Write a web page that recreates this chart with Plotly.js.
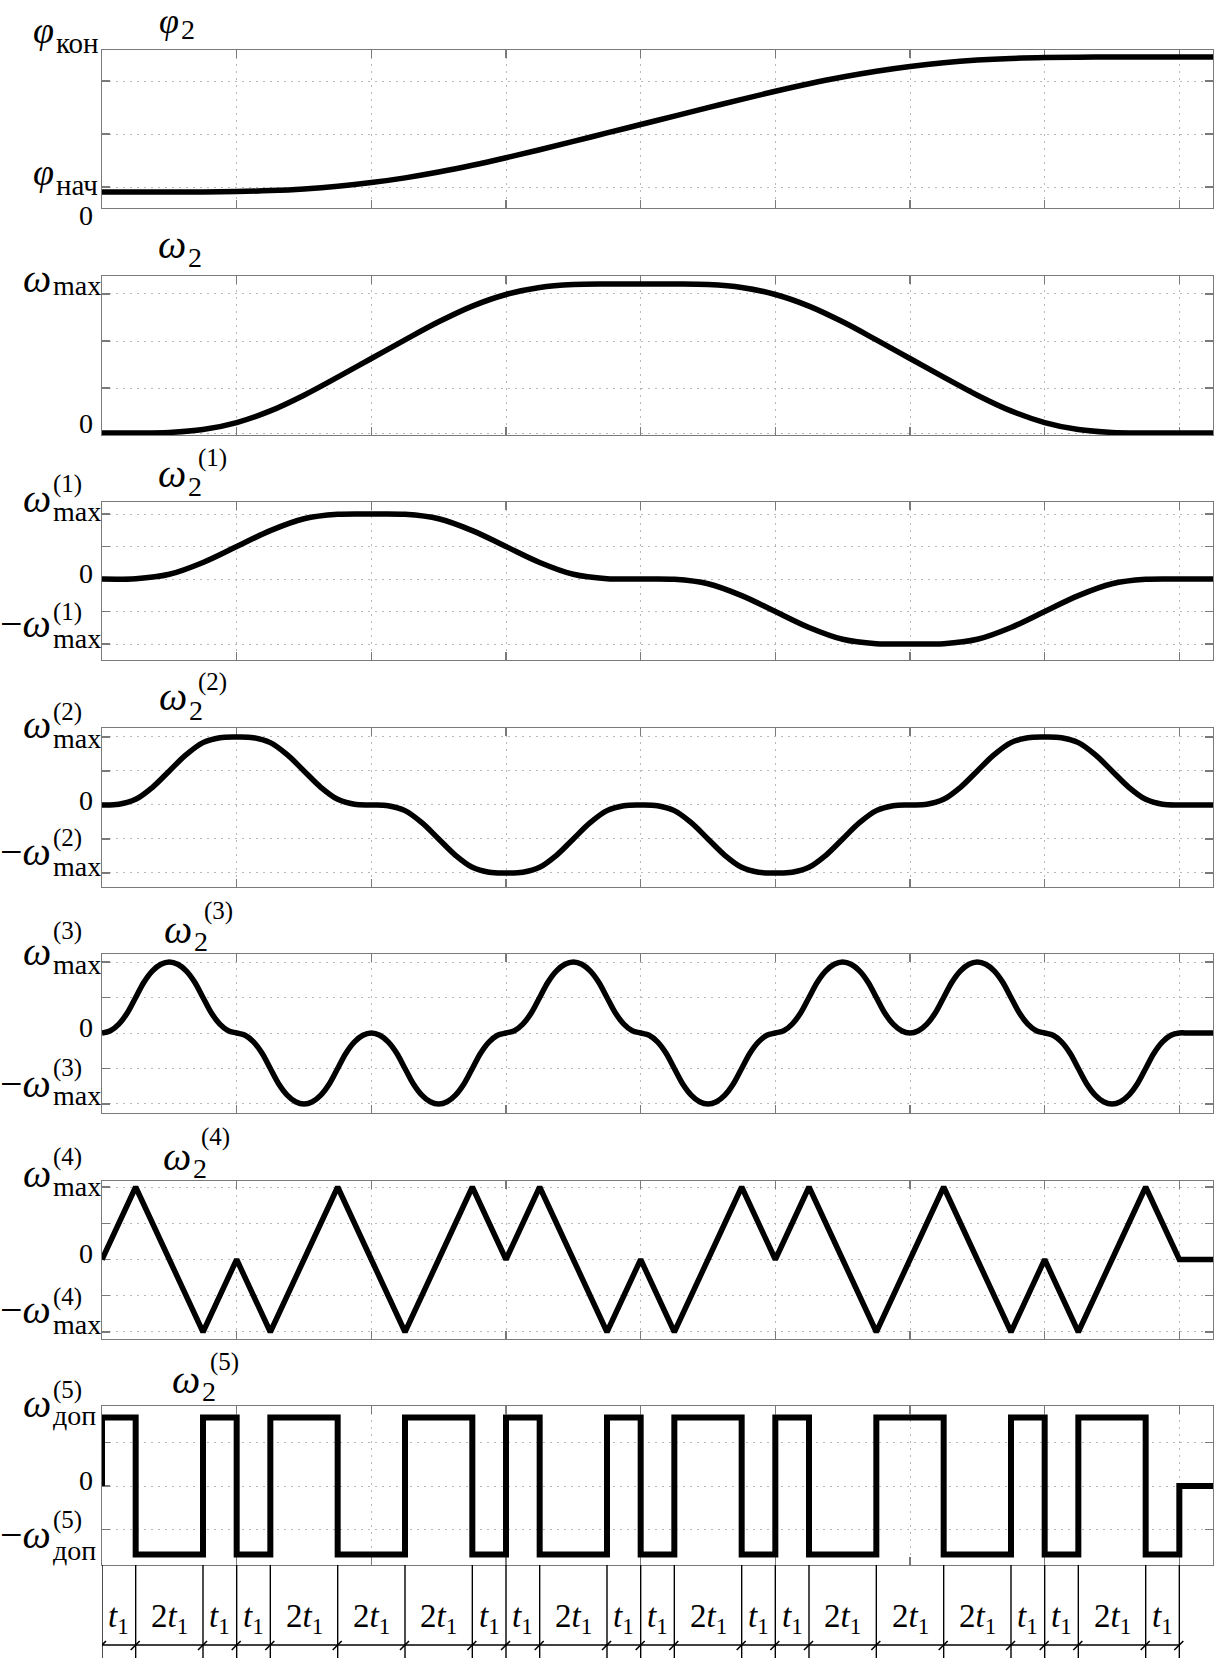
<!DOCTYPE html>
<html><head><meta charset="utf-8">
<script src="https://cdn.plot.ly/plotly-3.0.1.min.js"></script>
<style>html,body{margin:0;padding:0;background:#fff}</style>
</head><body><div id="chart" style="width:1215px;height:1658px"></div>
<script>
// ---------- data (time in units of t1) ----------
const t = [0,1,2,3,4,5,6,7,8,9,10,11,12,13,14,15,16,17,18,19,20,21,22,23,24,25,26,27,28,29,30,31,32,33];
const tHalf = [0,0.5,1,1.5,2,2.5,3,3.5,4,4.5,5,5.5,6,6.5,7,7.5,8,8.5,9,9.5,10,10.5,11,11.5,12,12.5,13,13.5,14,14.5,15,15.5,16,16.5,17,17.5,18,18.5,19,19.5,20,20.5,21,21.5,22,22.5,23,23.5,24,24.5,25,25.5,26,26.5,27,27.5,28,28.5,29,29.5,30,30.5,31,31.5,32,32.5,33];
const tQuarter = [0,0.25,0.5,0.75,1,1.25,1.5,1.75,2,2.25,2.5,2.75,3,3.25,3.5,3.75,4,4.25,4.5,4.75,5,5.25,5.5,5.75,6,6.25,6.5,6.75,7,7.25,7.5,7.75,8,8.25,8.5,8.75,9,9.25,9.5,9.75,10,10.25,10.5,10.75,11,11.25,11.5,11.75,12,12.25,12.5,12.75,13,13.25,13.5,13.75,14,14.25,14.5,14.75,15,15.25,15.5,15.75,16,16.25,16.5,16.75,17,17.25,17.5,17.75,18,18.25,18.5,18.75,19,19.25,19.5,19.75,20,20.25,20.5,20.75,21,21.25,21.5,21.75,22,22.25,22.5,22.75,23,23.25,23.5,23.75,24,24.25,24.5,24.75,25,25.25,25.5,25.75,26,26.25,26.5,26.75,27,27.25,27.5,27.75,28,28.25,28.5,28.75,29,29.25,29.5,29.75,30,30.25,30.5,30.75,31,31.25,31.5,31.75,32,32.25,32.5,32.75,33];

// phi2 (fraction of the way from phi_nach to phi_kon)
const phi2 = [0,0.000001,0.000084,0.000815,0.00358,0.01025,0.0227,0.04232,0.06966,0.10482,0.1477,0.19775,0.25358,0.31331,0.37508,0.4375,0.5,0.5625,0.62492,0.68669,0.74642,0.80225,0.8523,0.89518,0.93034,0.95768,0.9773,0.98975,0.99642,0.999185,0.999916,0.999999,1,1];
// omega2 / omega_max
const omega2 = [0,0.0001,0.0039,0.0233,0.0703,0.1483,0.2539,0.3751,0.5,0.6249,0.7461,0.8517,0.9297,0.9767,0.9961,0.9999,1,0.9999,0.9961,0.9767,0.9297,0.8517,0.7461,0.6249,0.5,0.3751,0.2539,0.1483,0.0703,0.0233,0.0039,0.0001,0,0];
// omega2^(1) / omega_max^(1)
const omega2d1 = [0,0.0052,0.0729,0.2552,0.5,0.7448,0.9271,0.9948,1,0.9948,0.9271,0.7448,0.5,0.2552,0.0729,0.0052,0,-0.0052,-0.0729,-0.2552,-0.5,-0.7448,-0.9271,-0.9948,-1,-0.9948,-0.9271,-0.7448,-0.5,-0.2552,-0.0729,-0.0052,0,0];
// omega2^(2) / omega_max^(2)  (half-t1 steps)
const omega2d2 = [0,0.0104,0.0833,0.2604,0.5,0.7396,0.9167,0.9896,1,0.9896,0.9167,0.7396,0.5,0.2604,0.0833,0.0104,0,
 -0.0104,-0.0833,-0.2604,-0.5,-0.7396,-0.9167,-0.9896,-1,-0.9896,-0.9167,-0.7396,-0.5,-0.2604,-0.0833,-0.0104,0,
 -0.0104,-0.0833,-0.2604,-0.5,-0.7396,-0.9167,-0.9896,-1,-0.9896,-0.9167,-0.7396,-0.5,-0.2604,-0.0833,-0.0104,0,
 0.0104,0.0833,0.2604,0.5,0.7396,0.9167,0.9896,1,0.9896,0.9167,0.7396,0.5,0.2604,0.0833,0.0104,0,0,0];
// omega2^(3) / omega_max^(3)  (quarter-t1 steps)
const omega2d3 = [
 0,0.03125,0.125,0.28125, 0.5,0.71875,0.875,0.96875, 1,0.96875,0.875,0.71875, 0.5,0.28125,0.125,0.03125,
 0,-0.03125,-0.125,-0.28125, -0.5,-0.71875,-0.875,-0.96875, -1,-0.96875,-0.875,-0.71875, -0.5,-0.28125,-0.125,-0.03125,
 0,-0.03125,-0.125,-0.28125, -0.5,-0.71875,-0.875,-0.96875, -1,-0.96875,-0.875,-0.71875, -0.5,-0.28125,-0.125,-0.03125,
 0,0.03125,0.125,0.28125, 0.5,0.71875,0.875,0.96875, 1,0.96875,0.875,0.71875, 0.5,0.28125,0.125,0.03125,
 0,-0.03125,-0.125,-0.28125, -0.5,-0.71875,-0.875,-0.96875, -1,-0.96875,-0.875,-0.71875, -0.5,-0.28125,-0.125,-0.03125,
 0,0.03125,0.125,0.28125, 0.5,0.71875,0.875,0.96875, 1,0.96875,0.875,0.71875, 0.5,0.28125,0.125,0.03125,
 0,0.03125,0.125,0.28125, 0.5,0.71875,0.875,0.96875, 1,0.96875,0.875,0.71875, 0.5,0.28125,0.125,0.03125,
 0,-0.03125,-0.125,-0.28125, -0.5,-0.71875,-0.875,-0.96875, -1,-0.96875,-0.875,-0.71875, -0.5,-0.28125,-0.125,-0.03125,
 0,0,0,0, 0];
// omega2^(4) / omega_max^(4)
const omega2d4 = [0,1,0,-1,0,-1,0,1,0,-1,0,1,0,1,0,-1,0,-1,0,1,0,1,0,-1,0,1,0,-1,0,-1,0,1,0,0];
// omega2^(5): segment durations (in t1) and levels (+/- omega_dop^(5))
const segDur  = [1,2,1,1,2,2,2,1,1,2,1,1,2,1,1,2,2,2,1,1,2,1];
const segSign = [1,-1,1,-1,1,-1,1,-1,1,-1,1,-1,1,-1,1,-1,1,-1,1,-1,1,-1];
const tEnd = 33;

// ---------- build step series from segments ----------
const stepX = [0], stepY = [0], bounds = [0];
let acc = 0;
segDur.forEach((d, i) => { stepX.push(acc); stepY.push(segSign[i]); acc += d; bounds.push(acc); });
stepX.push(acc); stepY.push(0); stepX.push(tEnd); stepY.push(0);

// ---------- layout helpers ----------
const W = 1215, H = 1658, XL = 102, XR = 1213;
const FONT = 'Liberation Serif, Times New Roman, serif';
const px = v => v / W, py = v => 1 - v / H;

const panels = [
  {top:50,   bot:208,  range:[-0.1185,1.052], ticks:[0.037,0.4296,0.8222], x:t,     y:phi2,     shape:'spline', w:5.5},
  {top:276,  bot:435,  range:[-0.0134,1.0537], ticks:[0,0.302,0.617,0.933], x:t,    y:omega2,   shape:'spline', w:5.5},
  {top:502,  bot:660,  range:[-1.246,1.185], ticks:[-1,-0.5,0,0.5,1], x:t,          y:omega2d1, shape:'spline', w:5.5},
  {top:728,  bot:887,  range:[-1.206,1.132], ticks:[-1,-0.5,0,0.5,1], x:tHalf,      y:omega2d2, shape:'spline', w:5.5},
  {top:954,  bot:1113, range:[-1.127,1.113], ticks:[-1,-0.5,0,0.5,1], x:tQuarter,   y:omega2d3, shape:'spline', w:5.5},
  {top:1181, bot:1339, range:[-1.097,1.083], ticks:[-1,-0.5,0,0.5,1], x:t,          y:omega2d4, shape:'linear', w:5.5},
  {top:1406, bot:1565, range:[-1.153,1.168], ticks:[-0.635,0,0.635], x:stepX,       y:stepY,    shape:'hv',     w:6}
];

const traces = [], layout = {
  width: W, height: H, margin:{l:0,r:0,t:0,b:0}, showlegend:false,
  paper_bgcolor:'#fff', plot_bgcolor:'#fff', annotations:[], shapes:[],
  font:{family:FONT}
};
const AX = {showline:true, linecolor:'#7a7a7a', linewidth:1.3, mirror:'allticks', ticks:'inside', ticklen:8,
  tickcolor:'#7a7a7a', tickwidth:1.3, showgrid:true, gridcolor:'#b8b8b8', gridwidth:1, griddash:'2px,5px',
  showticklabels:false, zeroline:false, layer:'below traces', fixedrange:true};

panels.forEach((p, i) => {
  const k = i === 0 ? '' : String(i + 1);
  traces.push({x:p.x, y:p.y, xaxis:'x'+k, yaxis:'y'+k, type:'scatter', mode:'lines',
    line:{color:'#000', width:p.w, shape:p.shape, smoothing:1}, hoverinfo:'skip'});
  layout['xaxis'+k] = Object.assign({}, AX, {domain:[px(XL), px(XR)], anchor:'y'+k, range:[0,tEnd],
    tickmode:'array', tickvals:[0,4,8,12,16,20,24,28,32]});
  layout['yaxis'+k] = Object.assign({}, AX, {domain:[py(p.bot), py(p.top)], anchor:'x'+k, range:p.range,
    tickmode:'array', tickvals:p.ticks});
});

// ---------- labels ----------
function A(x, yc, text, size, xa){
  layout.annotations.push({xref:'paper', yref:'paper', x:px(x), y:py(yc), text, showarrow:false,
    xanchor:xa, yanchor:'middle', borderpad:0, font:{family:FONT, size, color:'#000'}});
}
function B(x, base, text, size, xa){ A(x, base - 0.3375*size, text, size, xa); }

// panel 1
B(180, 33, '<i>φ</i>', 36, 'right'); B(180, 39, '2', 28, 'left');
B(55, 43, '<i>φ</i>', 38, 'right');  B(55, 53, 'кон', 29, 'left');
B(55, 185, '<i>φ</i>', 38, 'right'); B(55, 195, 'нач', 29, 'left');
B(94, 225, '0', 28, 'right');
// panel 2
B(187, 258, '<i>ω</i>', 40, 'right'); B(187, 267, '2', 28, 'left');
B(52, 292, '<i>ω</i>', 40, 'right');  B(52, 295, 'max', 28, 'left');
B(94, 433, '0', 28, 'right');
// panels 3..7
const lab = [
  {n:1, tr:187, tb:487, sb:496, sx:197, sc:460, pb:512, pc:486, ps:521, z:583, nb:637, nc:614, ns:648, s:'max'},
  {n:2, tr:188, tb:710, sb:720, sx:197, sc:684, pb:738, pc:714, ps:748, z:810, nb:865, nc:840, ns:876, s:'max'},
  {n:3, tr:193, tb:943, sb:951, sx:203, sc:913, pb:965, pc:933, ps:974, z:1037, nb:1097, nc:1070, ns:1105, s:'max'},
  {n:4, tr:192, tb:1170, sb:1178, sx:200, sc:1139, pb:1187, pc:1159, ps:1196, z:1263, nb:1323, nc:1299, ns:1334, s:'max'},
  {n:5, tr:201, tb:1393, sb:1401, sx:209, sc:1364, pb:1417, pc:1392, ps:1425, z:1490, nb:1548, nc:1522, ns:1560, s:'доп'}
];
lab.forEach(L => {
  const sup = '(' + L.n + ')';
  B(L.tr, L.tb, '<i>ω</i>', 40, 'right'); B(L.tr, L.sb, '2', 28, 'left'); A(L.sx, L.sc - 2, sup, 25, 'left');
  B(52, L.pb, '<i>ω</i>', 40, 'right'); A(52, L.pc - 2, sup, 25, 'left'); B(52, L.ps, L.s, 28, 'left');
  B(94, L.z, '0', 28, 'right');
  B(52, L.nb, '−<i>ω</i>', 40, 'right'); A(52, L.nc - 2, sup, 25, 'left'); B(52, L.ns, L.s, 28, 'left');
});

// ---------- time-interval dimension row under the last panel ----------
bounds.forEach(b => {
  layout.shapes.push({type:'line', xref:'x7', yref:'paper', x0:b, x1:b, y0:py(1565), y1:0,
    line:{color:'#000', width:1.4}});
  layout.shapes.push({type:'line', xref:'x7', yref:'paper', xsizemode:'pixel', xanchor:b, x0:-5, x1:4,
    y0:py(1650), y1:py(1641), line:{color:'#000', width:1.6}});
});
layout.shapes.push({type:'line', xref:'x7', yref:'paper', x0:0, x1:bounds[bounds.length-1],
  y0:py(1645), y1:py(1645), line:{color:'#000', width:1.4}});
segDur.forEach((d, i) => {
  layout.annotations.push({xref:'x7', yref:'paper', x:bounds[i] + d/2, y:py(1618),
    text:(d === 1 ? '' : String(d)) + '<i>t</i><sub>1</sub>', showarrow:false, xanchor:'center', yanchor:'middle',
    font:{family:FONT, size:33, color:'#000'}});
});

Plotly.newPlot('chart', traces, layout, {staticPlot:true, displayModeBar:false});
</script></body></html>
